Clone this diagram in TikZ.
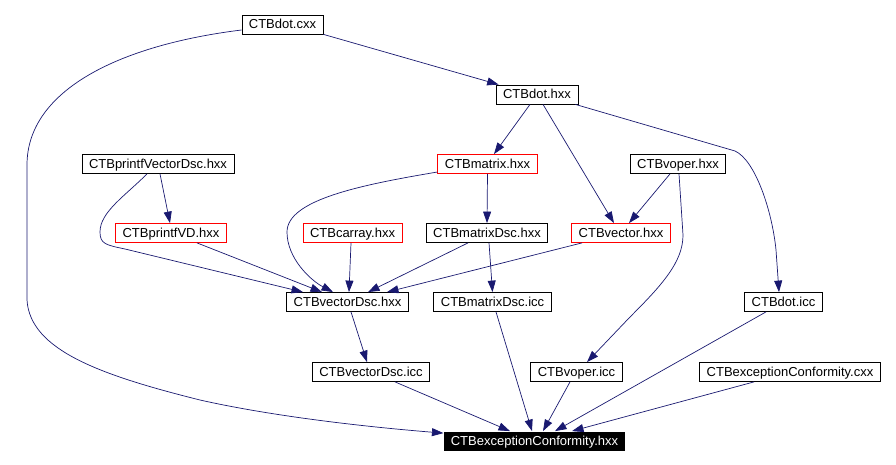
\documentclass[tikz,border=0pt]{standalone}
\usepackage{xcolor}
\usepackage{fontspec}
\setmainfont{Liberation Sans}
\usepackage{tikz}
\usetikzlibrary{arrows.meta}
\definecolor{midnight}{HTML}{191970}

\begin{document}
\begin{tikzpicture}[
			x=1pt,y=-1pt,
			every node/.style={font=\fontsize{13}{15}\selectfont,text height=9.5pt,text depth=1pt,inner xsep=7pt,inner ysep=0pt,minimum height=19pt,line width=0.8pt},
			file/.style={draw=black},
			redfile/.style={draw=red},
			topfile/.style={fill=black,text=white},
			dep/.style={midnight,line width=0.7pt,-{Triangle[length=11.5pt,width=8pt]}}
			]

			\useasboundingbox (0,0) rectangle (896,465);

			\node[file] (cdotcxx) at (282.5,24.5) {CTBdot.cxx};
			\node[file] (cdothxx) at (537,94.5) {CTBdot.hxx};
			\node[file] (cprintfvdsc) at (158,164) {CTBprintfVectorDsc.hxx};
			\node[redfile] (cmatrix) at (487.5,164) {CTBmatrix.hxx};
			\node[file] (cvoper) at (678,164) {CTBvoper.hxx};
			\node[redfile] (cprintfvd) at (171,233) {CTBprintfVD.hxx};
			\node[redfile] (ccarray) at (352.5,233) {CTBcarray.hxx};
			\node[file] (cmatrixdsc) at (487,233) {CTBmatrixDsc.hxx};
			\node[redfile] (cvector) at (621,233) {CTBvector.hxx};
			\node[file] (cvectordsc) at (347.5,302) {CTBvectorDsc.hxx};
			\node[file] (cmatrixdscicc) at (492.5,302) {CTBmatrixDsc.icc};
			\node[file] (cdoticc) at (783.5,302) {CTBdot.icc};
			\node[file] (cvectordscicc) at (371,372) {CTBvectorDsc.icc};
			\node[file] (cvopericc) at (576.5,372) {CTBvoper.icc};
			\node[file] (cexccxx) at (790,372) {CTBexceptionConformity.cxx};
			\node[topfile] (cexchxx) at (534.5,441) {CTBexceptionConformity.hxx};

			\draw[dep] (cdotcxx.south east) -- ([xshift=3pt]cdothxx.north west);
			\draw[dep] ([yshift=-5.5pt]cdotcxx.west) .. controls (120,45) and (27,90) .. (27,165) -- (27,300)
				.. controls (30,350) and (100,375) .. (200,400) .. controls (280,418) and (380,428) .. ([yshift=-2pt]cexchxx.north west);

			\draw[dep] ([xshift=-7pt]cdothxx.south) -- ([xshift=6.5pt]cmatrix.north);
			\draw[dep] ([xshift=6pt]cdothxx.south) -- ([xshift=-7pt]cvector.north);
			\draw[dep] ([xshift=-3pt]cdothxx.south east) -- (735,151) .. controls (755,160) and (772,210) .. (776,250) -- ([xshift=-4.5pt]cdoticc.north);

			\draw[dep] ([xshift=2pt]cprintfvdsc.south) -- ([xshift=-1pt]cprintfvd.north);
			\draw[dep] ([xshift=-11pt]cprintfvdsc.south) .. controls (125,196) and (100,212) .. (100,232)
				.. controls (100,244) and (106,245) .. (125,249) -- ([xshift=-44.5pt]cvectordsc.north);

			\draw[dep] ([yshift=-8pt]cmatrix.west) .. controls (360,185) and (287,200) .. (287,232)
				.. controls (287,258) and (310,280) .. ([xshift=-14.5pt]cvectordsc.north);
			\draw[dep] (cmatrix.south) -- (cmatrixdsc.north);

			\draw[dep] ([xshift=-8pt]cvoper.south) -- ([xshift=8pt]cvector.north);
			\draw[dep] ([xshift=1pt]cvoper.south) -- (683,235) .. controls (683,262) and (662,285) .. (630,317) -- ([xshift=10.5pt]cvopericc.north);

			\draw[dep] ([xshift=26pt]cprintfvd.south) -- ([xshift=-25.5pt]cvectordsc.north);
			\draw[dep] ([xshift=-1.5pt]ccarray.south) -- ([xshift=1.5pt]cvectordsc.north);
			\draw[dep] ([xshift=-19pt]cmatrixdsc.south) -- ([xshift=20.5pt]cvectordsc.north);
			\draw[dep] ([xshift=2pt]cmatrixdsc.south) -- (cmatrixdscicc.north);
			\draw[dep] ([xshift=-39pt]cvector.south) -- ([xshift=39.5pt]cvectordsc.north);

			\draw[dep] ([xshift=3.5pt]cvectordsc.south) -- ([xshift=-4pt]cvectordscicc.north);

			\draw[dep] ([xshift=24pt]cvectordscicc.south) -- ([xshift=-24.5pt]cexchxx.north);
			\draw[dep] ([xshift=3.5pt]cmatrixdscicc.south) -- ([xshift=-2.5pt]cexchxx.north);
			\draw[dep] ([xshift=-6.5pt]cvopericc.south) -- ([xshift=8.5pt]cexchxx.north);
			\draw[dep] ([xshift=-17.5pt]cdoticc.south) -- ([xshift=20.5pt]cexchxx.north);
			\draw[dep] ([xshift=-36pt]cexccxx.south) -- ([xshift=37.5pt]cexchxx.north);

			\end{tikzpicture}
\end{document}
